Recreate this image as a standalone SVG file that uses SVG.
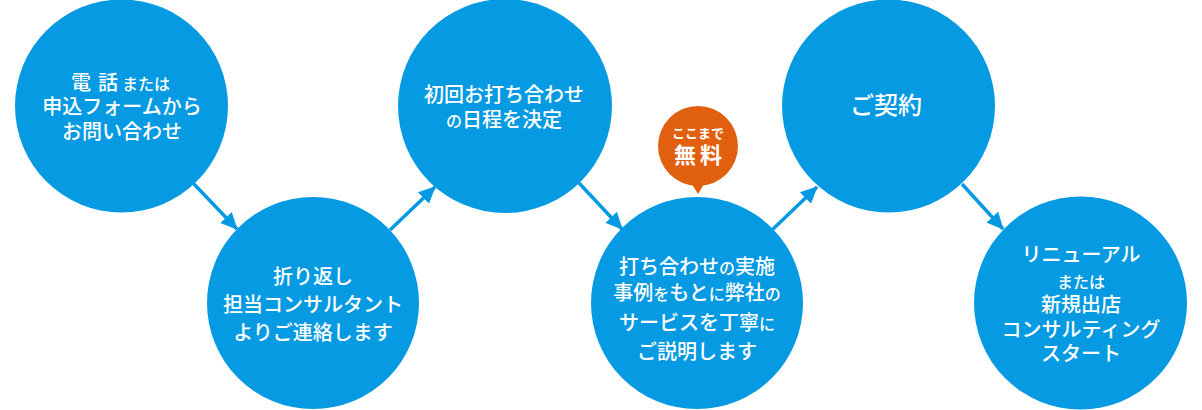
<svg xmlns="http://www.w3.org/2000/svg" width="1202" height="410" viewBox="0 0 1202 410">
<style>
.node{fill:#069ae3}
.badge{fill:#e1600f}
.t{font-family:"Noto Sans CJK JP","Noto Sans",sans-serif;font-size:20px;font-weight:500;fill:#fff;text-anchor:middle}
.st{text-anchor:start}
.s{font-size:16px}
.b{font-weight:700}
.conn{stroke:#069ae3;stroke-width:3.5;fill:none}
</style>
<defs>
<marker id="ah" markerUnits="userSpaceOnUse" markerWidth="18" markerHeight="18" viewBox="0 0 18 18" refX="16" refY="9" orient="auto">
<path d="M0,1 L17,9 L0,17 Z" fill="#069ae3"/>
</marker>
</defs>
<rect width="1202" height="410" fill="#fff"/>
<g id="connectors">
<line class="conn" x1="193" y1="183" x2="237" y2="229" marker-end="url(#ah)"/>
<line class="conn" x1="390" y1="230" x2="435" y2="187" marker-end="url(#ah)"/>
<line class="conn" x1="579" y1="183" x2="622" y2="229" marker-end="url(#ah)"/>
<line class="conn" x1="772" y1="230" x2="817" y2="187" marker-end="url(#ah)"/>
<line class="conn" x1="962" y1="184" x2="1003" y2="229" marker-end="url(#ah)"/>
</g>
<g id="node1">
<circle class="node" cx="121.5" cy="106" r="106.5"/>
<text class="t st" x="71" y="90">電<tspan dx="7">話</tspan><tspan class="s" dx="4">または</tspan></text>
<text class="t" x="122" y="114">申込フォームから</text>
<text class="t" x="122" y="139">お問い合わせ</text>
</g>
<g id="node2">
<circle class="node" cx="313" cy="303" r="106"/>
<text class="t" x="313" y="284">折り返し</text>
<text class="t" x="313" y="312">担当コンサルタント</text>
<text class="t" x="313" y="340">よりご連絡します</text>
</g>
<g id="node3">
<circle class="node" cx="505" cy="106" r="107"/>
<text class="t" x="504" y="102">初回お打ち合わせ</text>
<text class="t" x="504" y="127"><tspan class="s">の</tspan>日程を決定</text>
</g>
<g id="node4">
<circle class="node" cx="697" cy="303" r="106"/>
<text class="t" x="697" y="274">打ち合わせ<tspan class="s">の</tspan>実施</text>
<text class="t" x="697" y="300">事例<tspan class="s">を</tspan>もと<tspan class="s">に</tspan>弊社<tspan class="s">の</tspan></text>
<text class="t" x="697" y="330">サービスを丁寧<tspan class="s">に</tspan></text>
<text class="t" x="697" y="359">ご説明します</text>
</g>
<g id="badge">
<circle class="badge" cx="698" cy="146" r="40"/>
<path class="badge" d="M690,181 L706,181 L698,194 Z"/>
<text class="t b" x="698" y="138" style="font-size:13px">ここまで</text>
<text class="t b" x="700" y="163" style="font-size:22px;letter-spacing:4px">無料</text>
</g>
<g id="node5">
<circle class="node" cx="888.5" cy="106" r="106.5"/>
<text class="t" x="886" y="114" style="font-size:24px">ご契約</text>
</g>
<g id="node6">
<circle class="node" cx="1080.5" cy="303" r="106.5"/>
<text class="t" x="1081" y="262">リニューアル</text>
<text class="t s" x="1081" y="288">または</text>
<text class="t" x="1081" y="312">新規出店</text>
<text class="t" x="1081" y="337">コンサルティング</text>
<text class="t" x="1081" y="361">スタート</text>
</g>
</svg>
